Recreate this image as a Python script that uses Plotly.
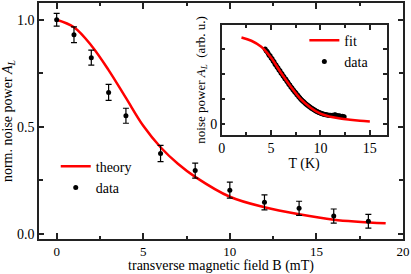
import plotly.graph_objects as go

# ---- main panel data ----
B_data = [0, 1, 2, 3, 4, 6, 8, 10, 12, 14, 16, 18]
A_data = [1.0, 0.93, 0.823, 0.661, 0.552, 0.376, 0.296, 0.205, 0.148, 0.12, 0.084, 0.06]
A_err = [0.03, 0.037, 0.035, 0.037, 0.035, 0.038, 0.035, 0.037, 0.035, 0.033, 0.033, 0.032]

B_theory = [0, 1, 2, 3, 4, 5, 6, 7, 8, 10, 12, 14, 16, 19]
A_theory = [1.0, 0.965, 0.88, 0.765, 0.635, 0.505, 0.405, 0.328, 0.267, 0.174, 0.125, 0.092, 0.067, 0.05]

# ---- inset data ----
T_fit = [2, 3, 4, 5, 6, 7, 8, 9, 10, 11, 12, 13, 14, 15]
N_fit = [0.868, 0.835, 0.775, 0.665, 0.515, 0.375, 0.25, 0.165, 0.105, 0.075, 0.057, 0.045, 0.035, 0.027]

T_data = [4.4, 4.5, 4.6, 4.7, 4.8, 4.9, 5.0, 5.1, 5.2, 5.3, 5.4, 5.5, 5.6, 5.7, 5.8, 5.9,
          6.0, 6.1, 6.2, 6.3, 6.4, 6.5, 6.6, 6.7, 6.8, 6.9, 7.0, 7.1, 7.2, 7.3, 7.4, 7.5,
          7.6, 7.7, 7.8, 7.9, 8.0, 8.1, 8.2, 8.3, 8.4, 8.5, 8.6, 8.7, 8.8, 8.9, 9.0, 9.1,
          9.2, 9.3, 9.4, 9.5, 9.6, 9.7, 9.8, 9.9, 10.0, 10.1, 10.2, 10.3, 10.4, 10.5, 10.6,
          10.7, 10.8, 10.9, 11.0, 11.1, 11.2, 11.3, 11.4, 11.5, 11.6, 11.7, 11.8, 11.9, 12.0,
          12.1, 12.2, 12.3, 12.4]
N_data = [0.752, 0.735, 0.728, 0.71, 0.69, 0.684, 0.662, 0.655, 0.632, 0.625, 0.6, 0.593,
          0.572, 0.562, 0.543, 0.534, 0.512, 0.505, 0.484, 0.476, 0.456, 0.449, 0.43, 0.42,
          0.4, 0.392, 0.372, 0.365, 0.348, 0.338, 0.322, 0.314, 0.298, 0.29, 0.274, 0.266,
          0.252, 0.243, 0.232, 0.224, 0.216, 0.206, 0.198, 0.19, 0.183, 0.175, 0.168, 0.16,
          0.155, 0.147, 0.143, 0.136, 0.131, 0.125, 0.121, 0.116, 0.112, 0.108, 0.105, 0.101,
          0.099, 0.096, 0.094, 0.092, 0.09, 0.091, 0.089, 0.088, 0.09, 0.087, 0.092, 0.095,
          0.088, 0.085, 0.082, 0.084, 0.08, 0.078, 0.081, 0.076, 0.074]

FONT = "Liberation Serif, Times New Roman, serif"
RED = "#ff0000"
FRAME = "#222222"

fig = go.Figure()

fig.add_trace(go.Scatter(x=B_theory, y=A_theory, mode="lines", name="theory",
                         line=dict(color=RED, width=2.5, shape="spline", smoothing=1.0),
                         legend="legend"))
fig.add_trace(go.Scatter(x=B_data, y=A_data, mode="markers", name="data",
                         marker=dict(color="black", size=5),
                         error_y=dict(type="data", array=A_err, color="black", thickness=1.2, width=3),
                         legend="legend"))

fig.add_trace(go.Scatter(x=T_data, y=N_data, mode="markers", name="data",
                         marker=dict(color="black", size=5),
                         xaxis="x2", yaxis="y2", legend="legend2", legendrank=2))
fig.add_trace(go.Scatter(x=T_fit, y=N_fit, mode="lines", name="fit",
                         line=dict(color=RED, width=2.5, shape="spline", smoothing=1.0),
                         xaxis="x2", yaxis="y2", legend="legend2", legendrank=1))

axis_common = dict(showline=True, linecolor=FRAME, linewidth=1.5, mirror="allticks",
                   ticks="inside", tickcolor=FRAME, tickwidth=1.5, showgrid=False,
                   zeroline=False, automargin=False)

fig.update_layout(
    width=411, height=274,
    margin=dict(l=39, r=8, t=3, b=35, autoexpand=False),
    paper_bgcolor="white", plot_bgcolor="white",
    font=dict(family=FONT, size=14, color="black"),
    xaxis=dict(range=[-1.02, 20], tickvals=[0, 5, 10, 15, 20], ticklen=6,
               tickfont=dict(family=FONT, size=13, color="black"),
               minor=dict(ticks="inside", tickvals=[2.5, 7.5, 12.5, 17.5], ticklen=3,
                          tickcolor=FRAME, tickwidth=1.5),
               title=dict(text="transverse magnetic field B (mT)", standoff=0,
                          font=dict(family=FONT, size=14)),
               **axis_common),
    yaxis=dict(range=[-0.023, 1.078], tickvals=[0, 0.5, 1.0], tickformat=".1f", ticklen=5,
               tickfont=dict(family=FONT, size=14, color="black"),
               minor=dict(ticks="inside", tickvals=[0.25, 0.75], ticklen=4,
                          tickcolor=FRAME, tickwidth=1.5),
               title=dict(text="norm. noise power <i>A</i><sub><i>L</i></sub>", standoff=2,
                          font=dict(family=FONT, size=14)),
               **axis_common),
    xaxis2=dict(domain=[0.502, 0.955], anchor="y2", range=[0, 16.7], tickvals=[0, 5, 10, 15],
                ticklen=5, tickfont=dict(family=FONT, size=14, color="black"),
                minor=dict(ticks="inside", tickvals=[2.5, 7.5, 12.5], ticklen=3,
                           tickcolor=FRAME, tickwidth=1.5),
                title=dict(text="T (K)", standoff=0, font=dict(family=FONT, size=14)),
                **axis_common),
    yaxis2=dict(domain=[0.441, 0.907], anchor="x2", range=[-0.107, 0.993],
                tickvals=[0], ticklen=4,
                tickfont=dict(family=FONT, size=14, color="black"),
                minor=dict(ticks="inside", tickvals=[0.25, 0.5, 0.75], ticklen=4,
                           tickcolor=FRAME, tickwidth=1.5),
                title=dict(text="noise power <i>A</i><sub><i>L</i></sub>  (arb. u.)", standoff=2,
                           font=dict(family=FONT, size=13)),
                **axis_common),
    legend=dict(x=0.046, y=0.374, xanchor="left", yanchor="top", bgcolor="rgba(0,0,0,0)",
                font=dict(family=FONT, size=14), tracegroupgap=0, traceorder="normal"),
    legend2=dict(x=0.729, y=0.908, xanchor="left", yanchor="top", bgcolor="rgba(0,0,0,0)",
                 font=dict(family=FONT, size=14), tracegroupgap=0, traceorder="normal"),
)

fig.write_html("out.html", config={"displayModeBar": False},
               post_script="document.body.style.margin='0';document.body.style.overflow='hidden';")
